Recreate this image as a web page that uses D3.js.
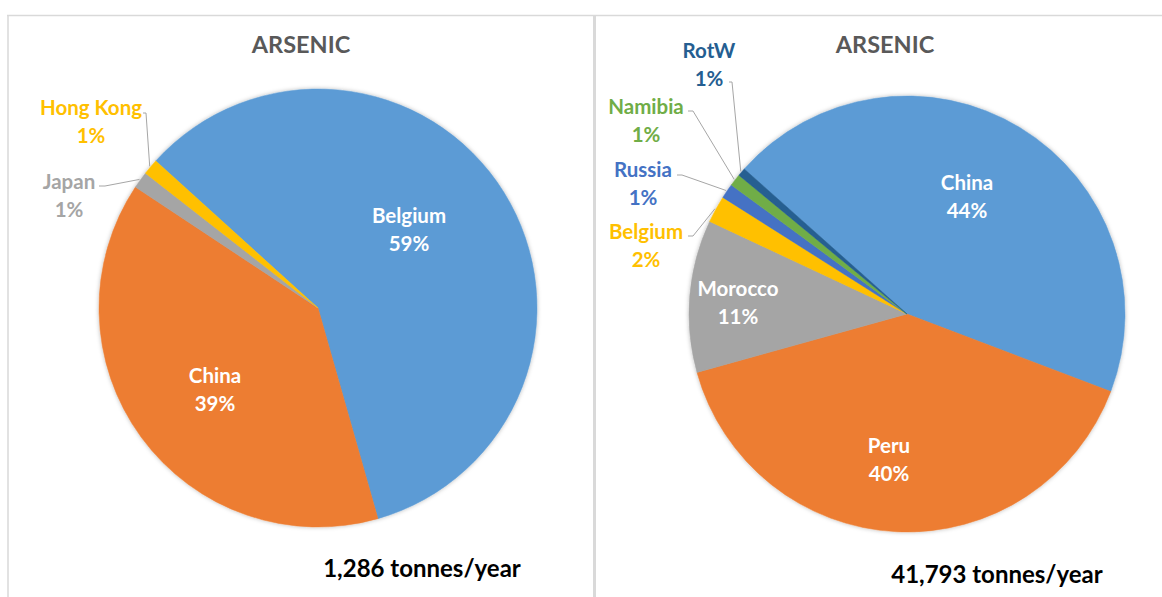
<!DOCTYPE html>
<html>
<head>
<meta charset="utf-8">
<script src="https://cdn.jsdelivr.net/npm/d3@7"></script>
<style>
  html, body { margin: 0; padding: 0; background: #fff; }
  svg { display: block; }
  text { font-family: Lato, "Open Sans", sans-serif; font-weight: 700; }
</style>
</head>
<body>
<svg id="chart" width="1162" height="597"></svg>
<script>
// ---------- data ----------
const leftTitle = "ARSENIC";
const leftNames = ["Belgium", "China", "Japan", "Hong Kong"];
const leftValues = [757, 498, 16, 15];            // tonnes/year
const leftColors = ["#5B9BD5", "#ED7D31", "#A5A5A5", "#FFC000"];
const leftTotalLabel = "1,286 tonnes/year";

const rightTitle = "ARSENIC";
const rightNames = ["China", "Peru", "Morocco", "Belgium", "Russia", "Namibia", "RotW"];
const rightValues = [18472, 16675, 4723, 836, 460, 376, 251]; // tonnes/year
const rightColors = ["#5B9BD5", "#ED7D31", "#A5A5A5", "#FFC000", "#4472C4", "#70AD47", "#255E91"];
const rightTotalLabel = "41,793 tonnes/year";

// ---------- layout ----------
const svg = d3.select("#chart");
const defs = svg.append("defs");
const f = defs.append("filter").attr("id", "shadow")
  .attr("x", "-10%").attr("y", "-10%").attr("width", "120%").attr("height", "120%");
f.append("feDropShadow").attr("dx", 0).attr("dy", 0).attr("stdDeviation", 2.2)
  .attr("flood-color", "#000").attr("flood-opacity", 0.28);

// frame lines
const frame = svg.append("g").attr("stroke", "#D9D9D9").attr("fill", "none");
frame.append("line").attr("x1", 7).attr("x2", 1162).attr("y1", 15.5).attr("y2", 15.5).attr("stroke-width", 1.5);
frame.append("line").attr("x1", 8).attr("x2", 8).attr("y1", 15).attr("y2", 597).attr("stroke-width", 1.5);
frame.append("line").attr("x1", 594.5).attr("x2", 594.5).attr("y1", 15).attr("y2", 597).attr("stroke-width", 3);

const deg = Math.PI / 180;

const charts = [
  {
    title: leftTitle, names: leftNames, values: leftValues, colors: leftColors, total: leftTotalLabel,
    cx: 318, cy: 308, r: 219, start: -47.8,
    titlePos: [301, 53], totalPos: [422, 577],
    labels: {
      "Belgium":   { pos: [409, 223], color: "#fff" },
      "China":     { pos: [215, 383], color: "#fff" },
      "Japan":     { pos: [69, 189], leader: [[99, 186], [105, 186]] },
      "Hong Kong": { pos: [91, 115], leader: [[143, 113], [146, 113]] }
    }
  },
  {
    title: rightTitle, names: rightNames, values: rightValues, colors: rightColors, total: rightTotalLabel,
    cx: 907, cy: 314, r: 218, start: -48.3,
    titlePos: [885, 53], totalPos: [997, 583],
    labels: {
      "China":   { pos: [967, 190], color: "#fff" },
      "Peru":    { pos: [889, 453], color: "#fff" },
      "Morocco": { pos: [738, 296], color: "#fff" },
      "Belgium": { pos: [646, 239], leader: [[688, 236], [693, 236]] },
      "Russia":  { pos: [643, 177], leader: [[677, 175], [682, 175]] },
      "Namibia": { pos: [646, 114], leader: [[688, 111], [693, 111]] },
      "RotW":    { pos: [709, 58],  leader: [[729, 82], [732, 82]] }
    }
  }
];

charts.forEach(c => {
  const data = c.names.map((n, i) => ({ name: n, value: c.values[i], color: c.colors[i] }));
  const sum = d3.sum(c.values);
  const pct = d3.format(".0%");
  const pie = d3.pie().sort(null).value(d => d.value)
    .startAngle(c.start * deg).endAngle(c.start * deg + 2 * Math.PI);
  const arcs = pie(data);
  const arc = d3.arc().innerRadius(0).outerRadius(c.r);
  const edge = d3.arc().innerRadius(c.r + 1).outerRadius(c.r + 1);

  const g = svg.append("g");
  const pg = g.append("g").attr("transform", `translate(${c.cx},${c.cy})`).attr("filter", "url(#shadow)");
  pg.selectAll("path").data(arcs).join("path")
    .attr("d", arc).attr("fill", d => d.data.color)
    .attr("stroke", d => d.data.color).attr("stroke-width", 0.5);

  // title
  g.append("text").attr("x", c.titlePos[0]).attr("y", c.titlePos[1])
    .attr("text-anchor", "middle").attr("font-size", 23.5).attr("fill", "#595959").text(c.title);

  // labels
  arcs.forEach(a => {
    const L = c.labels[a.data.name];
    const color = L.color || a.data.color;
    const t = g.append("text").attr("text-anchor", "middle").attr("font-size", 20.5).attr("fill", color);
    t.append("tspan").attr("x", L.pos[0]).attr("y", L.pos[1]).text(a.data.name);
    t.append("tspan").attr("x", L.pos[0]).attr("y", L.pos[1] + 27.5).text(pct(a.data.value / sum));
    if (L.leader) {
      const p = edge.centroid(a);
      const pts = L.leader.concat([[c.cx + p[0], c.cy + p[1]]]);
      g.append("path").attr("d", d3.line()(pts)).attr("fill", "none")
        .attr("stroke", "#A6A6A6").attr("stroke-width", 1);
    }
  });

  // total
  g.append("text").attr("x", c.totalPos[0]).attr("y", c.totalPos[1])
    .attr("text-anchor", "middle").attr("font-size", 24).attr("fill", "#000").text(c.total);
});
</script>
</body>
</html>
